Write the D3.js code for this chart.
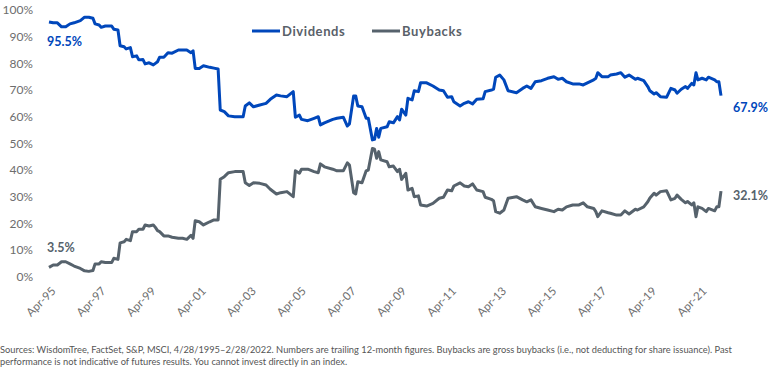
<!DOCTYPE html>
<html>
<head>
<meta charset="utf-8">
<script src="https://cdn.jsdelivr.net/npm/d3@7"></script>
<style>
  body { margin: 0; background: #fff; }
  svg { font-family: Lato, "Open Sans", sans-serif; display: block; }
  .source { font-size: 9.3px; fill: #555; }
</style>
</head>
<body>
<div id="chart"></div>
<script>
// month of each reading (trailing 12-month share of payout)
const dates = [
  '1995-04','1995-06','1995-08','1995-10','1995-12','1996-02','1996-04','1996-07','1996-09','1996-11',
  '1997-01','1997-02','1997-04','1997-05','1997-07','1997-10','1997-11','1998-01','1998-02','1998-04',
  '1998-05','1998-07','1998-08','1998-10','1998-11','1999-01','1999-02','1999-04','1999-06','1999-07',
  '1999-08','1999-09','1999-11','2000-01','2000-03','2000-06','2000-08','2000-10','2000-12','2001-01',
  '2001-02','2001-04','2001-06','2001-09','2001-11','2002-01','2002-02','2002-04','2002-06','2002-09',
  '2003-01','2003-02','2003-04','2003-06','2003-09','2003-12','2004-02','2004-05','2004-07','2004-10',
  '2005-01','2005-02','2005-04','2005-05','2005-08','2005-11','2006-01','2006-02','2006-04','2006-08',
  '2006-10','2007-01','2007-03','2007-04','2007-06','2007-07','2007-08','2007-10','2007-12','2008-01',
  '2008-03','2008-04','2008-05','2008-06','2008-07','2008-10','2008-11','2009-01','2009-03','2009-04',
  '2009-05','2009-07','2009-08','2009-10','2009-11','2010-01','2010-02','2010-05','2010-08','2010-11',
  '2011-01','2011-03','2011-05','2011-06','2011-09','2011-11','2012-01','2012-03','2012-05','2012-08',
  '2012-09','2012-12','2013-01','2013-02','2013-04','2013-06','2013-08','2013-12','2014-03','2014-05',
  '2014-07','2014-09','2014-12','2015-03','2015-06','2015-08','2015-10','2015-12','2016-03','2016-06',
  '2016-08','2016-10','2017-01','2017-02','2017-03','2017-05','2017-08','2017-09','2017-12','2018-02',
  '2018-04','2018-06','2018-09','2018-10','2019-01','2019-03','2019-04','2019-06','2019-07','2019-09',
  '2019-12','2020-02','2020-04','2020-05','2020-07','2020-09','2020-10','2020-12','2021-01','2021-02',
  '2021-03','2021-05','2021-07','2021-08','2021-11','2021-12','2022-01','2022-02'
];

const dividends = [
  95.5,95.2,95.2,93.7,93.7,94.8,95.2,96.0,97.3,97.3,
  96.9,94.8,94.4,93.5,94.0,94.0,92.8,92.5,86.6,86.2,
  85.4,85.9,82.5,82.8,81.3,81.4,79.8,80.2,79.4,80.0,
  80.6,82.3,82.3,84.0,83.8,85.0,85.0,85.0,84.0,84.7,
  78.1,78.1,79.1,78.5,78.2,77.9,62.5,61.9,60.3,60.0,
  60.0,64.0,65.2,63.7,64.4,65.0,66.5,68.1,67.8,67.5,
  69.4,59.8,60.6,59.0,58.5,59.4,60.0,56.9,57.7,59.0,
  59.4,59.8,56.5,57.3,67.8,67.8,64.0,63.7,59.4,59.4,
  51.3,51.5,55.6,52.3,55.6,56.2,58.1,57.7,60.0,58.8,
  62.8,60.6,66.9,66.3,69.7,69.4,72.7,72.7,71.5,70.0,
  69.7,67.3,67.5,65.6,64.0,65.0,65.6,64.8,66.5,66.7,
  69.4,70.0,70.3,74.8,75.6,73.8,69.7,69.0,70.6,71.5,
  70.6,73.1,73.5,74.4,75.0,74.0,74.4,73.1,72.3,72.3,
  71.9,72.7,73.8,74.4,76.5,75.0,75.0,75.6,76.0,76.5,
  74.8,75.6,74.0,74.4,73.5,71.3,69.7,68.5,69.0,67.5,
  67.3,70.6,70.0,68.8,70.3,71.3,70.6,72.5,71.9,76.5,
  73.8,74.4,73.8,74.8,73.8,73.1,73.1,67.9
];

const buybacks = [
  3.5,4.4,4.4,5.6,5.6,4.8,4.0,3.1,2.2,2.0,
  2.3,4.8,4.8,5.6,5.3,5.3,6.9,6.5,12.7,13.1,
  14.0,13.5,16.9,16.9,17.8,17.8,19.4,19.0,19.4,18.5,
  17.3,16.9,15.3,15.3,14.8,14.4,14.4,14.0,15.5,14.4,
  21.0,20.6,19.4,20.6,21.3,21.3,36.5,37.5,39.0,39.4,
  39.4,35.2,34.2,35.2,35.0,34.4,32.8,31.0,31.5,31.9,
  30.0,39.7,38.8,40.3,40.3,39.4,39.0,42.3,41.2,40.3,
  39.7,39.7,42.7,41.9,31.5,31.0,35.6,35.2,39.7,40.0,
  48.1,47.8,44.4,46.9,43.8,43.1,41.2,41.5,39.4,40.3,
  36.5,38.8,32.5,33.1,30.0,30.3,26.9,26.5,27.5,29.4,
  29.8,32.5,32.2,34.0,35.2,34.0,33.7,34.8,32.5,31.9,
  29.8,29.0,28.5,24.4,23.8,25.0,29.4,30.0,28.8,28.1,
  28.8,26.2,25.6,25.0,24.4,25.3,25.0,26.2,26.9,26.9,
  27.7,26.2,25.6,24.4,22.5,24.7,24.0,23.8,23.1,23.1,
  24.7,23.5,25.3,25.0,26.2,28.1,29.5,31.3,30.6,31.9,
  32.2,28.8,29.4,30.6,29.0,27.7,28.2,26.9,27.7,22.5,
  26.2,25.6,24.4,25.6,24.7,26.2,26.2,32.1
];

const yTicks = [0, 10, 20, 30, 40, 50, 60, 70, 80, 90, 100];
const xTicks = ['1995-04','1997-04','1999-04','2001-04','2003-04','2005-04','2007-04',
  '2009-04','2011-04','2013-04','2015-04','2017-04','2019-04','2021-04'];
const seriesNames = ['Dividends', 'Buybacks'];
const seriesColors = ['#0047bb', '#56626c'];

const parseMonth = d3.timeParse('%Y-%m');

class PayoutChart {
    constructor(_config) {
        this.config = {
            parentElement: _config.parentElement,
            containerWidth: _config.containerWidth || 776,
            containerHeight: _config.containerHeight || 369
        }
        this.initVis();
    }
    initVis() {
        let vis = this;

        vis.svg = d3.select(vis.config.parentElement).append('svg')
            .attr('width', vis.config.containerWidth)
            .attr('height', vis.config.containerHeight)

        vis.xScale = d3.scaleTime()
            .domain([parseMonth(dates[0]), parseMonth(dates[dates.length - 1])])
            .range([49, 721])
        vis.yScale = d3.scaleLinear()
            .domain([0, 100])
            .range([276.7, 10])

        // axes, no lines, just labels
        vis.yAxis = d3.axisLeft(vis.yScale)
            .tickValues(yTicks)
            .tickFormat(d => d + '%')
            .tickSize(0)
            .tickPadding(0)
        vis.xAxis = d3.axisBottom(vis.xScale)
            .tickValues(xTicks.map(parseMonth))
            .tickFormat(d3.timeFormat('%b-%y'))
            .tickSize(0)

        vis.yAxisG = vis.svg.append('g')
            .attr('transform', 'translate(33,0)')
        vis.xAxisG = vis.svg.append('g')
            .attr('transform', 'translate(0,285)')
        vis.visG = vis.svg.append('g')
    }
    renderVis() {
        let vis = this;

        vis.yAxisG.call(vis.yAxis)
        vis.yAxisG.select('.domain').remove()
        vis.yAxisG.selectAll('text')
            .attr('font-family', 'Lato, sans-serif')
            .attr('font-size', 12)
            .attr('fill', '#6d6d6d')

        vis.xAxisG.call(vis.xAxis)
        vis.xAxisG.select('.domain').remove()
        vis.xAxisG.selectAll('text')
            .attr('font-family', 'Lato, sans-serif')
            .attr('font-size', 11.5)
            .attr('fill', '#6d6d6d')
            .attr('text-anchor', 'end')
            .attr('dy', '0.35em')
            .attr('y', 0)
            .attr('transform', 'translate(4,4) rotate(-45)')

        const series = [dividends, buybacks].map((vals, i) => ({
            name: seriesNames[i],
            color: seriesColors[i],
            values: vals.map((v, j) => ({date: parseMonth(dates[j]), value: v}))
        }))

        const line = d3.line()
            .x(d => vis.xScale(d.date))
            .y(d => vis.yScale(d.value))

        vis.visG.selectAll('.series').data(series)
            .join('path')
            .attr('class', 'series')
            .attr('fill', 'none')
            .attr('stroke', d => d.color)
            .attr('stroke-width', 3)
            .attr('stroke-linejoin', 'round')
            .attr('d', d => line(d.values))

        // first / last value labels
        const labels = []
        series.forEach(s => {
            const first = s.values[0], last = s.values[s.values.length - 1]
            labels.push({text: d3.format('.1f')(first.value) + '%', x: vis.xScale(first.date) - 2,
                y: vis.yScale(first.value) + (s.name === 'Dividends' ? 24 : -15), color: s.color})
            labels.push({text: d3.format('.1f')(last.value) + '%', x: vis.xScale(last.date) + 12,
                y: vis.yScale(last.value) + (s.name === 'Dividends' ? 16 : 9), color: s.color})
        })
        vis.visG.selectAll('.end-label').data(labels)
            .join('text')
            .attr('class', 'end-label')
            .attr('x', d => d.x)
            .attr('y', d => d.y)
            .attr('fill', d => d.color)
            .attr('font-size', 12.5)
            .attr('font-weight', 'bold')
            .text(d => d.text)

        // legend
        const legend = vis.svg.selectAll('.legend').data(series)
            .join('g')
            .attr('class', 'legend')
            .attr('transform', (d, i) => `translate(${252 + i * 120},31)`)
        legend.append('line')
            .attr('x1', 0).attr('x2', 28)
            .attr('stroke', d => d.color)
            .attr('stroke-width', 3)
        legend.append('text')
            .attr('x', 30)
            .attr('dy', '0.35em')
            .attr('font-size', 13)
            .attr('font-weight', 'bold')
            .attr('fill', '#5a6169')
            .attr('letter-spacing', 0.6)
            .text(d => d.name)

        // footnote
        const note = vis.svg.append('text').attr('class', 'source')
        note.append('tspan').attr('x', 0).attr('y', 353)
            .text('Sources: WisdomTree, FactSet, S&P, MSCI, 4/28/1995\u20132/28/2022. Numbers are trailing 12-month figures. Buybacks are gross buybacks (i.e., not deducting for share issuance). Past')
        note.append('tspan').attr('x', 0).attr('y', 365)
            .text('performance is not indicative of futures results. You cannot invest directly in an index.')
    }
}

const chart = new PayoutChart({parentElement: '#chart'});
chart.renderVis();
</script>
</body>
</html>
